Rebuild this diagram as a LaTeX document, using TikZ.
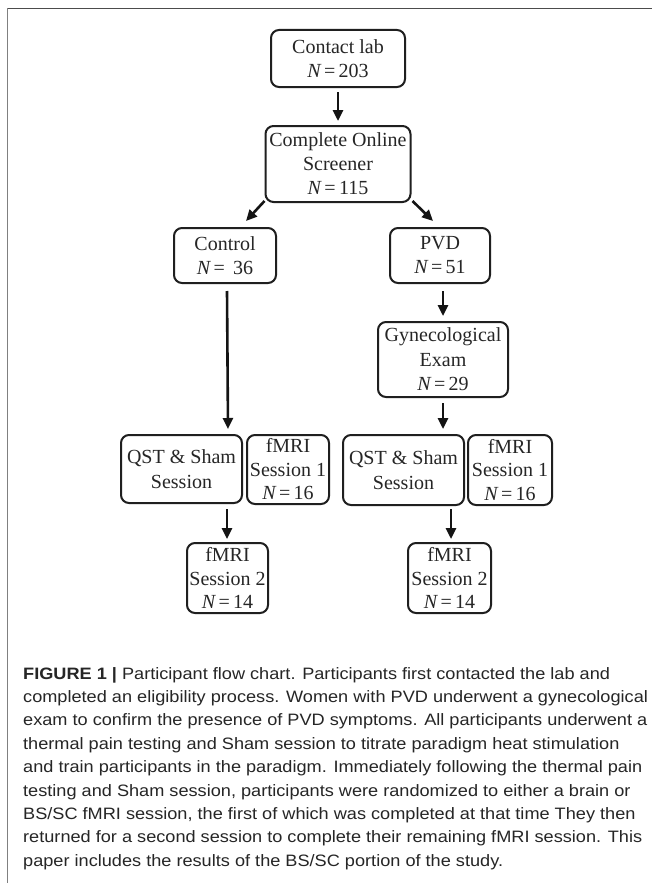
\documentclass[tikz,border=0pt]{standalone}
\usepackage{fontspec}
\setmainfont{Liberation Serif}
\newfontfamily\capfont[FakeStretch=1.1]{Liberation Sans}
\usetikzlibrary{arrows.meta,calc}
\newcommand{\NN}{{\itshape N}\,=\,}
\begin{document}
\begin{tikzpicture}[x=1pt,y=-1pt,
  box/.style={draw=black!88, line width=2pt, rounded corners=8pt, align=center,
    inner sep=0pt, text=black!85, font=\fontsize{20}{24}\selectfont},
  tight/.style={font=\fontsize{20}{23.5}\selectfont},
  mid/.style={font=\fontsize{20}{24.5}\selectfont},
  arr/.style={line width=2.6pt, draw=black!92, -{Triangle[width=10pt,length=11pt]}},
  captext/.style={anchor=base west, inner sep=0pt,
    font=\capfont\fontsize{16.5}{20}\selectfont, text=black!85},
  frame/.style={draw=black!70, line width=1.6pt}]
\useasboundingbox (0,0) rectangle (652,883);
\fill[white] (0,0) rectangle (652,883);
\draw[frame] (7,8.5) -- (652,8.5);
\draw[draw=black!50, line width=1pt] (7,8.5) -- (7,883);

% boxes
\node[box, minimum width=134pt, minimum height=57pt] (contact) at (338,58.5) {Contact lab\\\NN 203};
\node[box, minimum width=145pt, minimum height=76pt] (screen) at (338,164) {Complete Online\\Screener\\\NN 115};
\node[box, minimum width=102pt, minimum height=55pt] (control) at (225,255.5) {Control\\\NN\ 36};
\node[box, minimum width=100pt, minimum height=55pt] (pvd) at (440,255.5) {PVD\\\NN 51};
\node[box, mid, minimum width=130pt, minimum height=75pt] (gyn) at (443,359.5) {Gynecological\\Exam\\\NN 29};
\node[box, mid, minimum width=121pt, minimum height=68pt] (qstL) at (181.5,469) {QST \& Sham\\Session};
\node[box, tight, minimum width=82pt, minimum height=69pt] (fmriaL) at (288,469.5) {fMRI\\Session 1\\\NN 16};
\node[box, mid, minimum width=121pt, minimum height=70pt] (qstR) at (403.5,470) {QST \& Sham\\Session};
\node[box, tight, minimum width=84pt, minimum height=70pt] (fmriaR) at (510,470) {fMRI\\Session 1\\\NN 16};
\node[box, tight, minimum width=81pt, minimum height=70pt] (fmribL) at (227.5,578) {fMRI\\Session 2\\\NN 14};
\node[box, tight, minimum width=83pt, minimum height=70pt] (fmribR) at (449.5,578) {fMRI\\Session 2\\\NN 14};

% arrows
\draw[arr] ($(contact.south)+(0,4)$) -- ($(screen.north)+(0,-4)$);
\draw[arr] ($(screen.south west)+(0,-2)$) -- ($(control.north)+(21,-6)$);
\draw[arr] ($(screen.south east)+(1,-2)$) -- ($(pvd.north)+(-7,-6)$);
\draw[arr] ($(control.south)+(2,7)$) -- ($(qstL.north east)+(-15,-5)$);
\draw[arr] ($(pvd.south)+(3,7)$) -- ($(gyn.north)+(0,-5)$);
\draw[arr] ($(gyn.south)+(0,5)$) -- ($(qstR.north)+(39.5,-5)$);
\draw[arr] ($(qstL.south)+(45.5,5)$) -- ($(fmribL.north)+(-0.5,-3)$);
\draw[arr] ($(qstR.south)+(47.5,3)$) -- ($(fmribR.north)+(1.5,-3)$);

% caption
\node[captext] (cap1) at (23,679) {\textbf{FIGURE 1 |} Participant flow chart. Participants first contacted the lab and};
\node[captext] (cap2) at (23,702.4) {completed an eligibility process. Women with PVD underwent a gynecological};
\node[captext] (cap3) at (23,725.8) {exam to confirm the presence of PVD symptoms. All participants underwent a};
\node[captext] (cap4) at (23,749.2) {thermal pain testing and Sham session to titrate paradigm heat stimulation};
\node[captext] (cap5) at (23,772.6) {and train participants in the paradigm. Immediately following the thermal pain};
\node[captext] (cap6) at (23,796) {testing and Sham session, participants were randomized to either a brain or};
\node[captext] (cap7) at (23,819.4) {BS/SC fMRI session, the first of which was completed at that time They then};
\node[captext] (cap8) at (23,842.8) {returned for a second session to complete their remaining fMRI session. This};
\node[captext] (cap9) at (23,866.2) {paper includes the results of the BS/SC portion of the study.};
\end{tikzpicture}
\end{document}
